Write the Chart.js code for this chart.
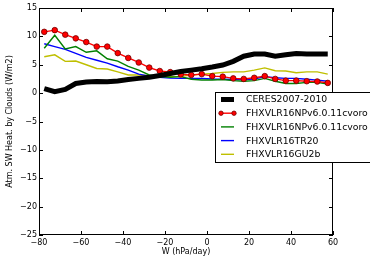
<!DOCTYPE html>
<html lang="en">
<head>
  <meta charset="UTF-8">
  <title>Atm. SW Heating by Clouds</title>
  <script src="https://cdn.jsdelivr.net/npm/chart.js"></script>
  <style>
    html, body { margin: 0; padding: 0; background: #fff; }
  </style>
</head>
<body>
  <canvas id="chartCanvas" width="370" height="261"></canvas>

  <script>
    // omega bins (hPa/day)
    const omega = [-77.5, -72.5, -67.5, -62.5, -57.5, -52.5, -47.5, -42.5, -37.5, -32.5,
                   -27.5, -22.5, -17.5, -12.5, -7.5, -2.5, 2.5, 7.5, 12.5, 17.5,
                   22.5, 27.5, 32.5, 37.5, 42.5, 47.5, 52.5, 57.5];

    const ceres = [0.8, 0.25, 0.65, 1.7, 1.95, 2.05, 2.0, 2.15, 2.4, 2.6,
                   2.8, 3.1, 3.45, 3.8, 4.05, 4.3, 4.6, 4.95, 5.6, 6.5,
                   6.9, 6.9, 6.5, 6.75, 7.0, 6.9, 6.9, 6.9];
    const cvoroA = [10.8, 11.1, 10.3, 9.65, 9.0, 8.2, 8.2, 7.05, 6.2, 5.4,
                    4.5, 3.9, 3.7, 3.3, 3.2, 3.35, 3.0, 2.9, 2.6, 2.5,
                    2.7, 3.0, 2.5, 2.2, 2.2, 2.1, 2.05, 1.8];
    const cvoroB = [7.9, 10.2, 7.8, 8.2, 7.2, 7.45, 6.05, 5.65, 4.7, 4.05,
                    3.2, 2.9, 2.8, 2.9, 2.45, 2.3, 2.3, 2.4, 2.2, 2.1,
                    2.2, 2.6, 2.1, 1.7, 1.7, 1.9, 1.9, 1.6];
    const tr20 = [8.7, 8.2, 7.7, 7.0, 6.3, 5.8, 5.3, 4.65, 4.05, 3.35,
                  3.0, 2.8, 2.65, 2.6, 2.6, 2.6, 2.5, 2.45, 2.4, 2.4,
                  2.5, 2.9, 2.7, 2.6, 2.6, 2.45, 2.3, 2.1];
    const gu2b = [6.4, 6.75, 5.6, 5.65, 5.0, 4.35, 4.25, 3.75, 3.2, 3.2,
                  3.05, 3.0, 2.9, 2.95, 3.2, 3.35, 3.45, 3.65, 3.75, 3.75,
                  4.05, 4.45, 3.95, 3.9, 3.6, 3.75, 3.75, 3.35];

    const seriesNames = ['CERES2007-2010', 'FHXVLR16NPv6.0.11cvoro', 'FHXVLR16NPv6.0.11cvoro',
                         'FHXVLR16TR20', 'FHXVLR16GU2b'];
    const xTicks = [-80, -60, -40, -20, 0, 20, 40, 60];
    const yTicks = [-25, -20, -15, -10, -5, 0, 5, 10, 15];

    const FONT = 'DejaVu Sans';

    function pts(ys) {
      return ys.map((y, i) => ({ x: omega[i], y: y }));
    }

    const datasets = [
      { label: seriesNames[0], data: pts(ceres), borderColor: '#000', borderWidth: 5, pointRadius: 0 },
      { label: seriesNames[1], data: pts(cvoroA), borderColor: '#ff0000', borderWidth: 1.4,
        pointRadius: 2.8, pointBackgroundColor: '#ff0000', pointBorderColor: '#700000', pointBorderWidth: 0.8 },
      { label: seriesNames[2], data: pts(cvoroB), borderColor: '#008000', borderWidth: 1.4, pointRadius: 0 },
      { label: seriesNames[3], data: pts(tr20), borderColor: '#0000ff', borderWidth: 1.4, pointRadius: 0 },
      { label: seriesNames[4], data: pts(gu2b), borderColor: '#bfbf00', borderWidth: 1.4, pointRadius: 0 }
    ].map(d => Object.assign({ fill: false, tension: 0 }, d));

    // matplotlib-like frame with inward ticks on all four sides
    const framePlugin = {
      id: 'frame',
      afterDatasetsDraw(chart) {
        const { ctx, chartArea: a, scales } = chart;
        ctx.save();
        ctx.strokeStyle = '#000';
        ctx.lineWidth = 1;
        ctx.strokeRect(a.left + 0.5, a.top + 0.5, a.right - a.left - 1, a.bottom - a.top - 1);
        ctx.beginPath();
        xTicks.forEach(v => {
          const px = Math.round(scales.x.getPixelForValue(v)) + 0.5;
          ctx.moveTo(px, a.bottom); ctx.lineTo(px, a.bottom - 4);
          ctx.moveTo(px, a.top); ctx.lineTo(px, a.top + 4);
        });
        yTicks.forEach(v => {
          const py = Math.round(scales.y.getPixelForValue(v)) + 0.5;
          ctx.moveTo(a.left, py); ctx.lineTo(a.left + 4, py);
          ctx.moveTo(a.right, py); ctx.lineTo(a.right - 4, py);
        });
        ctx.stroke();
        ctx.restore();
      },
      afterDraw(chart) {
        // legend box, partly outside the figure like the original
        const ctx = chart.ctx;
        const bx = 215.5, by = 92.5, rowH = 13.7;
        ctx.save();
        ctx.fillStyle = '#fff';
        ctx.fillRect(bx, by, 170, 70);
        ctx.strokeStyle = '#000';
        ctx.lineWidth = 1;
        ctx.strokeRect(bx, by, 170, 70);
        ctx.font = '9.3px "' + FONT + '"';
        ctx.textBaseline = 'middle';
        ctx.textAlign = 'left';
        chart.data.datasets.forEach((ds, i) => {
          const y = by + 7 + i * rowH;
          ctx.strokeStyle = ds.borderColor;
          ctx.lineWidth = ds.borderWidth;
          ctx.beginPath();
          ctx.moveTo(221, y); ctx.lineTo(234, y);
          ctx.stroke();
          if (ds.pointRadius > 0) {
            [221, 234].forEach(px => {
              ctx.beginPath();
              ctx.arc(px, y, 2.2, 0, Math.PI * 2);
              ctx.fillStyle = ds.pointBackgroundColor;
              ctx.fill();
              ctx.lineWidth = 0.8;
              ctx.strokeStyle = ds.pointBorderColor;
              ctx.stroke();
            });
          }
          ctx.fillStyle = '#000';
          ctx.fillText(ds.label, 246, y + 0.5);
        });
        ctx.restore();
      }
    };

    const minus = v => String(v).replace('-', '\u2212');

    new Chart(document.getElementById('chartCanvas').getContext('2d'), {
      type: 'line',
      data: { datasets: datasets },
      plugins: [framePlugin],
      options: {
        responsive: false,
        animation: false,
        layout: { padding: { left: 0, right: 37, top: 8, bottom: 0 } },
        plugins: { legend: { display: false }, tooltip: { enabled: false } },
        scales: {
          x: {
            type: 'linear',
            min: -80, max: 60,
            afterBuildTicks: s => { s.ticks = xTicks.map(v => ({ value: v })); },
            afterFit: s => { s.height = 26; },
            grid: { display: false, drawTicks: false },
            border: { display: false },
            ticks: { color: '#000', padding: 3, maxRotation: 0, font: { family: FONT, size: 8 }, callback: minus },
            title: { display: true, text: 'W (hPa/day)', color: '#000', font: { family: FONT, size: 8 }, padding: { top: 0, bottom: 4 } }
          },
          y: {
            type: 'linear',
            min: -25, max: 15,
            afterBuildTicks: s => { s.ticks = yTicks.map(v => ({ value: v })); },
            afterFit: s => { s.width = 39; },
            grid: { display: false, drawTicks: false },
            border: { display: false },
            ticks: { color: '#000', padding: 2, font: { family: FONT, size: 8 }, callback: minus },
            title: { display: true, text: 'Atm. SW Heat. by Clouds (W/m2)', color: '#000', font: { family: FONT, size: 8 }, padding: { top: 5, bottom: 0 } }
          }
        }
      }
    });
  </script>
</body>
</html>
